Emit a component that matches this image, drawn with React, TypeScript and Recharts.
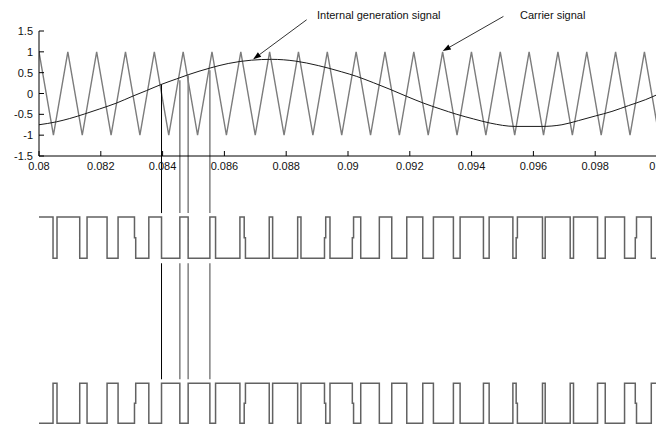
import React from 'react';
import { LineChart, Line, XAxis, YAxis, ReferenceLine } from 'recharts';

// ---------- axis ticks ----------
const X_TICKS = [0.08, 0.082, 0.084, 0.086, 0.088, 0.09, 0.092, 0.094, 0.096, 0.098, 0.1];
const X_TICK_LABELS = ['0.08', '0.082', '0.084', '0.086', '0.088', '0.09', '0.092', '0.094', '0.096', '0.098', '0.1'];
const Y_TICKS = [-1.5, -1, -0.5, 0, 0.5, 1, 1.5];
const Y_TICK_LABELS = ['-1.5', '-1', '-0.5', '0', '0.5', '1', '1.5'];

// ---------- carrier (triangle) vertices ----------
const CARRIER_PEAK_T = [0.08, 0.080933, 0.081866, 0.082799, 0.083732, 0.084665, 0.085598, 0.086531, 0.087464, 0.088397, 0.08933, 0.090263, 0.091196, 0.092129, 0.093062, 0.093995, 0.094928, 0.095861, 0.096794, 0.097727, 0.09866, 0.099593];
const CARRIER_TROUGH_T = [0.080467, 0.0814, 0.082333, 0.083266, 0.084199, 0.085132, 0.086065, 0.086998, 0.087931, 0.088864, 0.089797, 0.09073, 0.091663, 0.092596, 0.093529, 0.094462, 0.095395, 0.096328, 0.097261, 0.098194, 0.099127, 0.10006];
const CARRIER_PEAK_V = 1;
const CARRIER_TROUGH_V = -1;

// ---------- internal generation (sine) signal ----------
const SINE_T = [0.08, 0.080564, 0.080995, 0.08148, 0.081966, 0.082507, 0.083045, 0.083479, 0.083965, 0.084451, 0.084827, 0.08553, 0.086123, 0.086881, 0.087528, 0.088283, 0.089038, 0.089796, 0.090282, 0.09082, 0.091361, 0.091902, 0.092439, 0.09298, 0.093521, 0.094059, 0.0946, 0.09541, 0.096275, 0.096923, 0.097461, 0.098002, 0.098542, 0.09908, 0.099621, 0.1];
const SINE_V = [-0.75, -0.68, -0.6, -0.49, -0.37, -0.23, -0.06, 0.07, 0.22, 0.35, 0.45, 0.61, 0.72, 0.8, 0.82, 0.78, 0.67, 0.52, 0.41, 0.26, 0.1, -0.07, -0.23, -0.37, -0.5, -0.61, -0.71, -0.79, -0.79, -0.75, -0.65, -0.54, -0.43, -0.29, -0.15, -0.03];

// ---------- PWM switching instants (upper PWM starts high) ----------
const PWM_START = 1;
const SWITCH_T = [0.080454, 0.080583, 0.081318, 0.081555, 0.082203, 0.082559, 0.08309, 0.083554, 0.083965, 0.084558, 0.084827, 0.08553, 0.085714, 0.086502, 0.086641, 0.087451, 0.087561, 0.088371, 0.088478, 0.089239, 0.089417, 0.09014, 0.090412, 0.091014, 0.091416, 0.091902, 0.09242, 0.092764, 0.093411, 0.093628, 0.094383, 0.094568, 0.095336, 0.095442, 0.096294, 0.096382, 0.097191, 0.097298, 0.098076, 0.098325, 0.09895, 0.099297, 0.099815];
// transitions that show a one-sample intermediate step
const GLITCH_T = [0.08309, 0.086641, 0.089239, 0.09014, 0.095442, 0.099297];
const GLITCH_V = 0.5;
const GLITCH_DT = 0.00004;

// ---------- vertical marker lines ----------
const MARK_T = [0.083965, 0.084558, 0.084827, 0.08553];
const MARK_TOP = [0.22, 0.32, 0.44, 0.56];
const MARK_COLOR = ['#000000', '#808080', '#808080', '#808080'];

// ---------- annotations ----------
const ANNOT_TEXT = ['Internal generation signal', 'Carrier signal'];
const ANNOT_TAIL = [{ x: 0.088662, y: 1.77 }, { x: 0.09503, y: 1.85 }];
const ANNOT_HEAD = [{ x: 0.08693, y: 0.82 }, { x: 0.093068, y: 1.02 }];

// ---------- build tables ----------
const carrierData: { t: number; v: number }[] = [];
CARRIER_PEAK_T.forEach((t, i) => {
  carrierData.push({ t, v: CARRIER_PEAK_V });
  if (i < CARRIER_TROUGH_T.length) carrierData.push({ t: CARRIER_TROUGH_T[i], v: CARRIER_TROUGH_V });
});
const sineData = SINE_T.map((t, i) => ({ t, v: SINE_V[i] }));

function buildPwm(invert: boolean) {
  const f = (v: number) => (invert ? 1 - v : v);
  let v = PWM_START;
  const pts: { t: number; v: number }[] = [{ t: 0.08, v: f(v) }];
  SWITCH_T.forEach((t) => {
    const nv = 1 - v;
    if (GLITCH_T.includes(t)) {
      pts.push({ t, v: GLITCH_V });
      pts.push({ t: t + GLITCH_DT, v: f(nv) });
    } else {
      pts.push({ t, v: f(nv) });
    }
    v = nv;
  });
  pts.push({ t: 0.1, v: f(v) });
  return pts;
}
const pwmUpper = buildPwm(false);
const pwmLower = buildPwm(true);

// gaps of the marker lines (in panel units)
const TOP_MARK_END = -2.87; // top chart units, just above upper PWM
const MID_MARK_START = -0.12; // upper PWM units, just below its low level
const MID_MARK_END = -2.93; // upper PWM units, just above lower PWM high level

const W = 660;
const H = 424;
const FONT = '"Liberation Sans", Arial, Helvetica, sans-serif';

const XTick = (props: any) => {
  const { x, y, payload } = props;
  const idx = X_TICKS.indexOf(payload.value);
  const label = idx >= 0 ? X_TICK_LABELS[idx] : String(payload.value);
  return (
    <g>
      <line x1={x} y1={y} x2={x} y2={y - 5} stroke="#000" strokeWidth={1} />
      <text x={x} y={y + 13.5} textAnchor="middle" fontSize={11} fontFamily={FONT} fill="#111">
        {label}
      </text>
    </g>
  );
};

const YTick = (props: any) => {
  const { x, y, payload } = props;
  const idx = Y_TICKS.indexOf(payload.value);
  const label = idx >= 0 ? Y_TICK_LABELS[idx] : String(payload.value);
  return (
    <g>
      <line x1={x} y1={y} x2={x + 5} y2={y} stroke="#000" strokeWidth={1} />
      <text x={x - 6} y={y + 4} textAnchor="end" fontSize={11} fontFamily={FONT} fill="#111">
        {label}
      </text>
    </g>
  );
};

const Arrow = (props: any) => {
  const { x1, y1, x2, y2 } = props;
  const dx = x2 - x1;
  const dy = y2 - y1;
  const len = Math.sqrt(dx * dx + dy * dy) || 1;
  const ux = dx / len;
  const uy = dy / len;
  const L = 8;
  const Wd = 2.8;
  const bx = x2 - ux * L;
  const by = y2 - uy * L;
  const p = `${x2},${y2} ${bx - uy * Wd},${by + ux * Wd} ${bx + uy * Wd},${by - ux * Wd}`;
  return (
    <g>
      <line x1={x1} y1={y1} x2={bx} y2={by} stroke="#333" strokeWidth={1} />
      <polygon points={p} fill="#000" />
    </g>
  );
};

const layer: React.CSSProperties = { position: 'absolute', left: 0, top: 0 };

export default function App() {
  return (
    <div
      style={{
        position: 'absolute',
        left: 0,
        top: 0,
        width: 656,
        height: 424,
        overflow: 'hidden',
        background: '#ffffff',
      }}
    >
      {/* top panel: carrier + sine */}
      <div style={layer}>
        <LineChart width={W} height={H} margin={{ top: 31, right: 3, left: 0, bottom: 248 }}>
          <XAxis
            dataKey="t"
            type="number"
            domain={[0.08, 0.1]}
            ticks={X_TICKS}
            allowDataOverflow
            height={20}
            tickSize={0}
            tickMargin={0}
            tickLine={false}
            axisLine={{ stroke: '#000', strokeWidth: 1 }}
            tick={<XTick />}
            interval={0}
          />
          <YAxis
            type="number"
            domain={[-1.5, 1.5]}
            ticks={Y_TICKS}
            width={39}
            tickSize={0}
            tickMargin={0}
            tickLine={false}
            axisLine={{ stroke: '#000', strokeWidth: 1 }}
            tick={<YTick />}
            interval={0}
          />
          <Line
            data={carrierData}
            dataKey="v"
            type="linear"
            stroke="#7c7c7c"
            strokeWidth={1.4}
            dot={false}
            isAnimationActive={false}
          />
          <Line
            data={sineData}
            dataKey="v"
            type="monotone"
            stroke="#1a1a1a"
            strokeWidth={1}
            dot={false}
            isAnimationActive={false}
          />
          {MARK_T.map((t, i) => (
            <ReferenceLine
              key={'tm' + i}
              segment={[
                { x: t, y: MARK_TOP[i] },
                { x: t, y: TOP_MARK_END },
              ]}
              stroke={MARK_COLOR[i]}
              strokeWidth={i === 0 ? 1 : 1.5}
              ifOverflow="visible"
            />
          ))}
          {ANNOT_TAIL.map((p, i) => (
            <ReferenceLine
              key={'ar' + i}
              segment={[p, ANNOT_HEAD[i]]}
              ifOverflow="visible"
              shape={<Arrow />}
            />
          ))}
        </LineChart>
      </div>

      {/* upper PWM */}
      <div style={layer}>
        <LineChart width={W} height={H} margin={{ top: 217, right: 3, left: 39, bottom: 165.7 }}>
          <XAxis dataKey="t" type="number" domain={[0.08, 0.1]} hide />
          <YAxis type="number" domain={[0, 1]} hide />
          <Line
            data={pwmUpper}
            dataKey="v"
            type="stepAfter"
            stroke="#626262"
            strokeWidth={1.5}
            dot={false}
            isAnimationActive={false}
          />
          {MARK_T.map((t, i) => (
            <ReferenceLine
              key={'mm' + i}
              segment={[
                { x: t, y: MID_MARK_START },
                { x: t, y: MID_MARK_END },
              ]}
              stroke={MARK_COLOR[i]}
              strokeWidth={i === 0 ? 1 : 1.5}
              ifOverflow="visible"
            />
          ))}
        </LineChart>
      </div>

      {/* lower PWM */}
      <div style={layer}>
        <LineChart width={W} height={H} margin={{ top: 383.3, right: 3, left: 39, bottom: 0.7 }}>
          <XAxis dataKey="t" type="number" domain={[0.08, 0.1]} hide />
          <YAxis type="number" domain={[0, 1]} hide />
          <Line
            data={pwmLower}
            dataKey="v"
            type="stepAfter"
            stroke="#626262"
            strokeWidth={1.5}
            dot={false}
            isAnimationActive={false}
          />
        </LineChart>
      </div>

      {/* annotation texts */}
      <div
        style={{
          position: 'absolute',
          left: 317,
          top: 8,
          fontFamily: FONT,
          fontSize: 11,
          lineHeight: '14px',
          color: '#111',
          whiteSpace: 'nowrap',
        }}
      >
        {ANNOT_TEXT[0]}
      </div>
      <div
        style={{
          position: 'absolute',
          left: 520,
          top: 8,
          fontFamily: FONT,
          fontSize: 11,
          lineHeight: '14px',
          color: '#111',
          whiteSpace: 'nowrap',
        }}
      >
        {ANNOT_TEXT[1]}
      </div>
    </div>
  );
}
